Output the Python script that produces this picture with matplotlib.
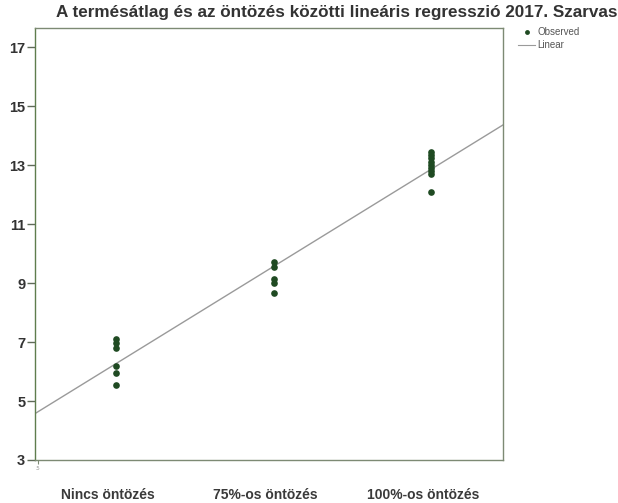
import numpy as np
import matplotlib
matplotlib.use("Agg")
import matplotlib.pyplot as plt

plt.rcParams['font.family'] = ['Liberation Sans', 'DejaVu Sans']

categories = ["Nincs öntözés", "75%-os öntözés", "100%-os öntözés"]
group_x = [1, 2, 3]
obs_nincs = [7.1, 6.95, 6.8, 6.2, 5.95, 5.55]
obs_75 = [9.7, 9.55, 9.15, 9.0, 8.65]
obs_100 = [13.45, 13.35, 13.25, 13.1, 13.0, 12.9, 12.8, 12.7, 12.1]
yticks = [3, 5, 7, 9, 11, 13, 15, 17]
title = "A termésátlag és az öntözés közötti lineáris regresszió 2017. Szarvas"

groups = [obs_nincs, obs_75, obs_100]
xs = np.concatenate([[gx] * len(g) for gx, g in zip(group_x, groups)])
ys = np.concatenate(groups)
slope, intercept = np.polyfit(xs, ys, 1)

fig = plt.figure(figsize=(6.18, 5.03), dpi=100)
ax = fig.add_axes([0.0566, 0.0855, 0.757, 0.859])
xlim = (0.483, 3.454)
ax.set_xlim(*xlim)
ax.set_ylim(3.0, 17.65)

lx = np.array(xlim)
ax.plot(lx, intercept + slope * lx, color='#9a9a9a', lw=1.0, zorder=2)
ax.plot(xs, ys, 'o', color='#1f4a22', markersize=4.8, zorder=3, markeredgewidth=0)

for s in ax.spines.values():
    s.set_color('#7d8a74')
    s.set_linewidth(1.0)
ax.spines['left'].set_color('#5f7d4e')

ax.set_yticks(yticks)
ax.set_yticklabels([str(t) for t in yticks], fontsize=10.5, fontweight='bold', color='#333333')
ax.tick_params(axis='y', direction='out', length=6, width=1, color='#5f6a58', pad=1)
ax.set_xticks([0.5])
ax.set_xticklabels(['.5'], fontsize=4, color='#999999')
ax.tick_params(axis='x', direction='out', length=3, width=0.8, color='#7d8a74', pad=1)

for gx, lab in zip(group_x, categories):
    ax.annotate(lab, xy=(gx, 3.0), xycoords='data', xytext=(-6, -25),
                textcoords='offset points', ha='center', va='center',
                fontsize=10, fontweight='bold', color='#3a3a3a', annotation_clip=False)

fig.text(0.545, 0.976, title, ha='center', va='center', fontsize=12.3,
         fontweight='bold', color='#333333')

# legend
fig.lines.append(plt.Line2D([0.838, 0.865], [0.911, 0.911], color='#9a9a9a', lw=0.8,
                            transform=fig.transFigure))
fig.lines.append(plt.Line2D([0.852], [0.936], marker='o', color='#1f4a22', markersize=3.5,
                            markeredgewidth=0, transform=fig.transFigure))
fig.text(0.869, 0.936, "Observed", fontsize=7, color='#555555', va='center')
fig.text(0.869, 0.911, "Linear", fontsize=7, color='#555555', va='center')

fig.savefig("out.png", dpi=100)
